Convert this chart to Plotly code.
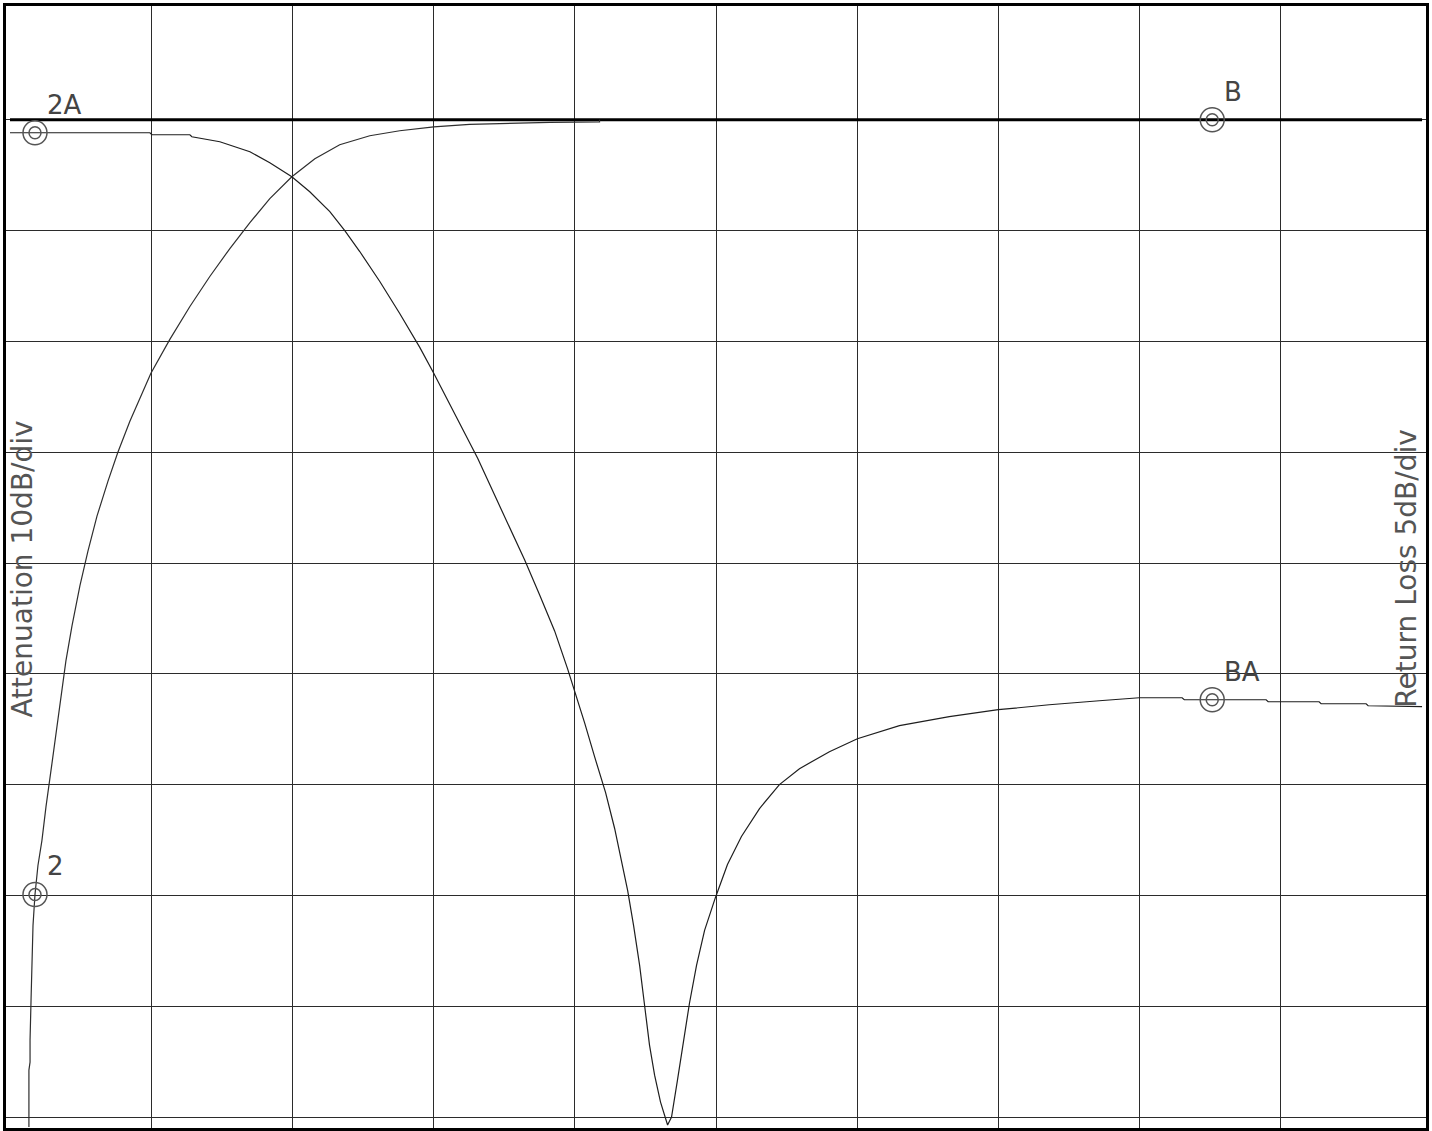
import plotly.graph_objects as go

""" network analyser trace: 10 x 10 divisions, no tick labels """

# trace 2 (rising) - x in divisions, y in divisions
att_x = [0.134, 0.134, 0.142, 0.142, 0.149, 0.156, 0.163, 0.177, 0.198, 0.226,
         0.255, 0.297, 0.340, 0.368, 0.396, 0.439, 0.495, 0.552, 0.616, 0.694,
         0.764, 0.849, 0.998, 1.132, 1.274, 1.415, 1.557, 1.699, 1.840, 1.996,
         2.159, 2.335, 2.548, 2.760, 3.001, 3.255, 3.468, 3.822, 4.175, 4.175]
att_y = [-0.09, 0.423, 0.495, 0.694, 1.054, 1.414, 1.730, 2.009, 2.270, 2.495,
         2.802, 3.189, 3.577, 3.847, 4.117, 4.432, 4.793, 5.108, 5.423, 5.739,
         6.000, 6.279, 6.712, 7.018, 7.315, 7.586, 7.838, 8.072, 8.288, 8.486,
         8.649, 8.775, 8.856, 8.901, 8.937, 8.959, 8.968, 8.977, 8.982, 9.0]

# trace 2A (falling, with the notch)
rl_x = [0.0, 0.991, 1.005, 1.274, 1.288, 1.486, 1.699, 1.840, 1.996, 2.123,
        2.265, 2.371, 2.477, 2.619, 2.760, 2.902, 3.001, 3.114, 3.220, 3.312,
        3.432, 3.539, 3.645, 3.751, 3.857, 3.949, 3.999, 4.069, 4.140, 4.218,
        4.282, 4.331, 4.374, 4.416, 4.459, 4.494, 4.529, 4.565, 4.607, 4.657,
        4.685, 4.727, 4.770, 4.812, 4.862, 4.919, 4.996, 5.081, 5.180, 5.308,
        5.449, 5.591, 5.803, 6.001, 6.299, 6.652, 6.999, 7.360, 7.714, 7.997,
        8.301, 8.316, 8.896, 8.910, 9.271, 9.285, 9.604, 9.618, 10.0]
rl_y = [8.883, 8.883, 8.865, 8.865, 8.847, 8.802, 8.712, 8.613, 8.486, 8.351,
        8.171, 8.000, 7.811, 7.541, 7.252, 6.946, 6.712, 6.432, 6.162, 5.946,
        5.613, 5.324, 5.027, 4.712, 4.387, 4.045, 3.847, 3.559, 3.252, 2.928,
        2.604, 2.315, 2.045, 1.730, 1.369, 1.009, 0.649, 0.378, 0.135, -0.072,
        0.0, 0.333, 0.694, 1.027, 1.369, 1.685, 1.982, 2.279, 2.532, 2.784,
        3.000, 3.144, 3.297, 3.414, 3.532, 3.613, 3.676, 3.721, 3.757, 3.784,
        3.784, 3.766, 3.766, 3.748, 3.748, 3.730, 3.730, 3.712, 3.703]

# reference line (trace B)
ref_x = [0.0, 10.0]
ref_y = [9.0, 9.0]

# marker points and their labels
mk_x = [0.177, 0.177, 8.514, 8.514]
mk_y = [8.883, 2.009, 9.0, 3.766]
mk_text = ["2A", "2", "B", "BA"]

left_title = "Attenuation 10dB/div"
right_title = "Return Loss 5dB/div"

fig = go.Figure()

fig.add_trace(go.Scatter(x=ref_x, y=ref_y, mode="lines",
                         line=dict(color="black", width=3)))
fig.add_trace(go.Scatter(x=att_x, y=att_y, mode="lines",
                         line=dict(color="#2e2e2e", width=1.2)))
fig.add_trace(go.Scatter(x=rl_x, y=rl_y, mode="lines",
                         line=dict(color="#1e1e1e", width=1.2)))

# double ring markers
fig.add_trace(go.Scatter(x=mk_x, y=mk_y, mode="markers",
                         marker=dict(symbol="circle-open", size=24, color="#555555",
                                     line=dict(width=1.5))))
fig.add_trace(go.Scatter(x=mk_x, y=mk_y, mode="markers",
                         marker=dict(symbol="circle-open", size=12, color="#555555",
                                     line=dict(width=1.5))))

for mx, my, txt in zip(mk_x, mk_y, mk_text):
    fig.add_annotation(x=mx, y=my, text=txt, showarrow=False,
                       xanchor="left", yanchor="bottom", xshift=10, yshift=11,
                       font=dict(family="DejaVu Sans", size=26, color="#444444"))

fig.add_annotation(x=0.092, y=4.95, text=left_title, showarrow=False,
                   textangle=-90, xanchor="center", yanchor="middle",
                   font=dict(family="DejaVu Sans", size=28, color="#555555"))
fig.add_annotation(x=9.887, y=4.95, text=right_title, showarrow=False,
                   textangle=-90, xanchor="center", yanchor="middle",
                   font=dict(family="DejaVu Sans", size=28, color="#555555"))

fig.update_xaxes(range=[-0.0283, 10.028], tickvals=list(range(1, 10)),
                 showticklabels=False, ticks="", zeroline=False,
                 showgrid=True, gridcolor="#2b2b2b", gridwidth=1,
                 showline=True, mirror=True, linecolor="black", linewidth=3)
fig.update_yaxes(range=[-0.099, 10.027], tickvals=list(range(0, 10)),
                 showticklabels=False, ticks="", zeroline=False,
                 showgrid=True, gridcolor="#2b2b2b", gridwidth=1,
                 showline=True, mirror=True, linecolor="black", linewidth=3)

fig.update_layout(width=1432, height=1131, autosize=False, showlegend=False,
                  margin=dict(l=6, r=5, t=4, b=3),
                  paper_bgcolor="white", plot_bgcolor="white")

# page body has a default 8px margin; drop it so the frame sits at the window edge
fig.write_html("out.html", config={"displayModeBar": False},
               post_script="document.body.style.margin='0';document.body.style.overflow='hidden';")
